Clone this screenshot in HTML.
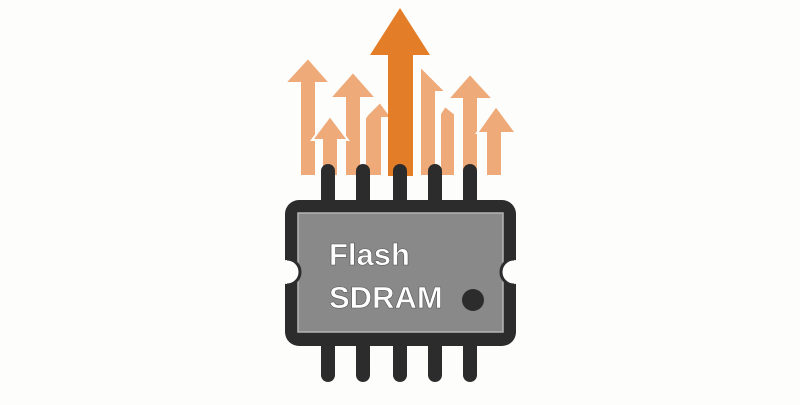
<!DOCTYPE html>
<html><head><style>
body{margin:0;width:800px;height:400px;background:#fdfdfb;overflow:hidden}
</style></head><body>
<svg width="800" height="400" xmlns="http://www.w3.org/2000/svg">
<g fill="#eeaa78" stroke="#fdfdfb" stroke-width="2">
  <!-- left arrows -->
  <polygon points="308,58 330,83 316,83 316,176 300,176 300,83 285,83"/>
  <polygon points="380,102 392,118 382,118 382,176 365,176 365,118 368,114"/>
  <polygon points="353,72 376,98 361,98 361,176 345,176 345,98 330,98"/>
  <polygon points="330,116 348,140 338,140 338,176 322,176 322,140 312,140"/>
  <!-- right arrows -->
  <polygon points="420,66 446,92 436,92 436,176 420,176"/>
  <polygon points="445,106 455,114 455,176 440,176 440,114"/>
  <polygon points="470,74 493,99 478,99 478,176 462,176 462,99 448,99"/>
  <polygon points="496,106 516,133 502,133 502,176 486,176 486,133 477,133"/>
</g>
<polygon points="400,8 430,55 413,55 413,176 388,176 388,55 370,55" fill="#e47d27"/>
<!-- pins -->
<g fill="#2c2c2c">
  <rect x="321" y="164" width="14" height="44" rx="7"/>
  <rect x="356" y="164" width="14" height="44" rx="7"/>
  <rect x="393" y="164" width="14" height="44" rx="7"/>
  <rect x="428" y="164" width="14" height="44" rx="7"/>
  <rect x="463" y="164" width="14" height="44" rx="7"/>
  <rect x="321" y="338" width="14" height="44" rx="7"/>
  <rect x="356" y="338" width="14" height="44" rx="7"/>
  <rect x="393" y="338" width="14" height="44" rx="7"/>
  <rect x="428" y="338" width="14" height="44" rx="7"/>
  <rect x="463" y="338" width="14" height="44" rx="7"/>
</g>
<rect x="285" y="200" width="231" height="146" rx="14" fill="#2c2c2c"/>
<rect x="298" y="213" width="205" height="119" fill="#898989" stroke="#b5b5b5" stroke-width="1.5"/>
<circle cx="287" cy="272" r="12" fill="#fdfdfb"/>
<circle cx="514" cy="272" r="12" fill="#fdfdfb"/>
<path d="M287,259 a13,13 0 0 1 0,26" fill="none" stroke="#2c2c2c" stroke-width="3"/>
<path d="M514,259 a13,13 0 0 0 0,26" fill="none" stroke="#2c2c2c" stroke-width="3"/>
<g font-family="Liberation Sans, sans-serif" font-weight="bold" font-size="31" fill="#ffffff" stroke="#555" stroke-width="0.6">
  <text x="329" y="265">Flash</text>
  <text x="329" y="308">SDRAM</text>
</g>
<circle cx="473" cy="300" r="11" fill="#2c2c2c"/>
</svg>
</body></html>
